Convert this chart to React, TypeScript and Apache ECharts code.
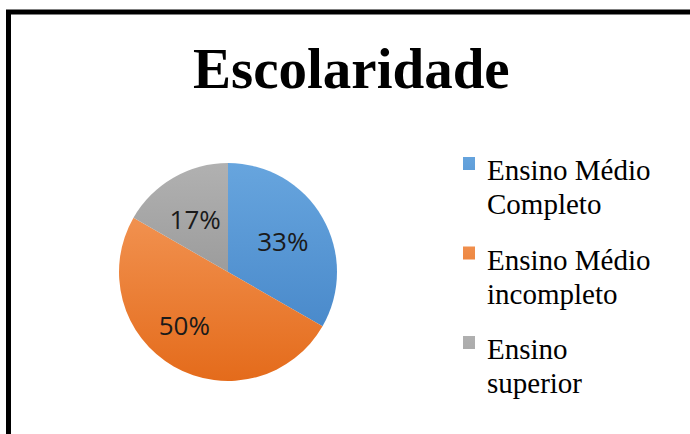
import React, { useEffect, useRef } from "react";
import * as echarts from "echarts";

const titleText = "Escolaridade";
const categories = ["Ensino Médio\nCompleto", "Ensino Médio\nincompleto", "Ensino\nsuperior"];
const values = [33.3, 50, 16.7];
const colorsTop = ["#67A5DE", "#F1914F", "#B1B1B1"];
const colorsBottom = ["#4A8ACB", "#E46B1B", "#9C9C9C"];
const labelShift = [
  { dx: 5, dy: -2 },
  { dx: -15, dy: 3 },
  { dx: -4, dy: -3 },
];

// square marker aligned with the first text line of a two-line legend entry
const legendIcon =
  "path://M0 0 L0.001 0 M0 68 L0.001 68 M0 4 L12 4 L12 17 L0 17 Z";

export default function App() {
  const ref = useRef<HTMLDivElement>(null);
  useEffect(() => {
    const chart = echarts.init(ref.current!, null, { renderer: "svg" });
    chart.setOption({
      animation: false,
      backgroundColor: "#ffffff",
      title: {
        text: titleText,
        left: 193,
        top: 40,
        padding: 0,
        textStyle: {
          fontFamily: "Liberation Serif",
          fontWeight: "bold",
          fontSize: 57,
          color: "#000000",
        },
      },
      legend: {
        orient: "vertical",
        left: 463,
        top: 153,
        padding: 0,
        itemWidth: 12,
        itemHeight: 68,
        itemGap: 21.5,
        icon: legendIcon,
        selectedMode: false,
        data: categories,
        textStyle: {
          fontFamily: "Liberation Serif",
          fontSize: 29,
          lineHeight: 34,
          color: "#000000",
          padding: [0, 0, 0, 7],
        },
      },
      graphic: [
        {
          type: "rect",
          silent: true,
          z: 100,
          shape: { x: 8.5, y: 12, width: 800, height: 600 },
          style: { fill: "none", stroke: "#000000", lineWidth: 5 },
        },
      ],
      series: [
        {
          type: "pie",
          center: [228, 272],
          radius: 109,
          startAngle: 90,
          clockwise: true,
          silent: true,
          percentPrecision: 0,
          label: {
            show: true,
            position: "inside",
            formatter: "{d}%",
            fontFamily: "Open Sans",
            fontSize: 26,
            color: "#1a1a1a",
          },
          labelLine: { show: false },
          labelLayout: (p: any) => labelShift[p.dataIndex],
          itemStyle: { borderWidth: 0 },
          data: categories.map((name, i) => ({
            name,
            value: values[i],
            itemStyle: {
              color: new echarts.graphic.LinearGradient(0, 0, 0, 1, [
                { offset: 0, color: colorsTop[i] },
                { offset: 1, color: colorsBottom[i] },
              ]),
            },
          })),
        },
      ],
    });
    return () => chart.dispose();
  }, []);
  return (
    <div
      ref={ref}
      style={{ position: "fixed", left: 0, top: 0, width: 690, height: 434 }}
    />
  );
}
